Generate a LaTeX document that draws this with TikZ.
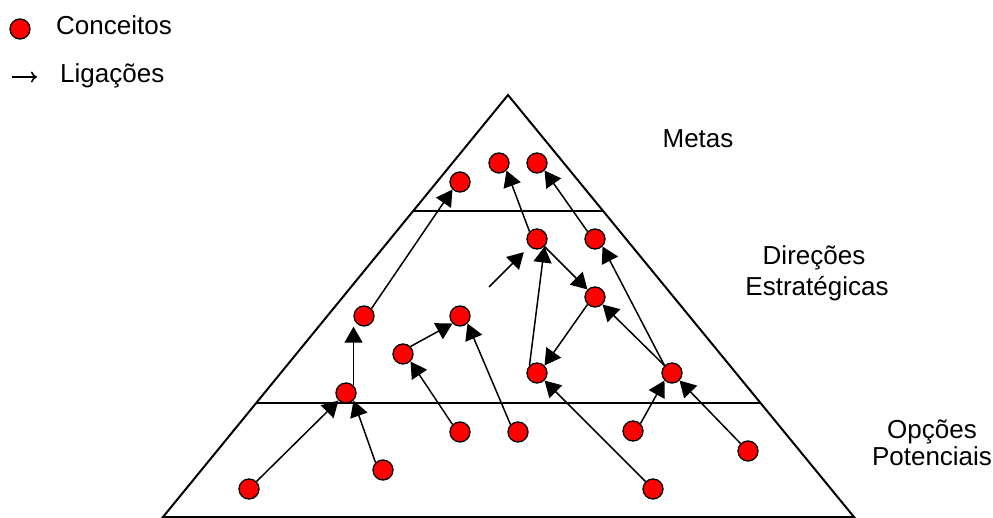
\documentclass[tikz,border=0pt]{standalone}
\usepackage{fontspec}
\setmainfont{Liberation Sans}
\usetikzlibrary{arrows.meta,calc}
\definecolor{conc}{RGB}{255,0,0}
\tikzset{
  conceito/.style={circle,draw=black,fill=conc,line width=1.3pt,minimum size=20pt,inner sep=0pt},
  liga/.style={-{Triangle[length=16pt,width=18pt]},line width=1.5pt},
  aresta/.style={line width=2pt,line join=miter},
  rotulo/.style={font=\fontsize{26}{30}\selectfont,inner sep=0pt},
}

\begin{document}
\begin{tikzpicture}[x=1pt,y=-1pt]
\useasboundingbox (0,0) rectangle (993,518);
% ---- legenda ----
\node[conceito] (legc) at (20,29) {};
\node[rotulo,anchor=base west] (legct) at (56,35) {Conceitos};
\coordinate (lega) at (12,77);
\coordinate (legb) at (37,77);
\draw[-{To[length=6pt,width=11pt]},line width=1.6pt] (lega) -- (legb);
\node[rotulo,anchor=base west] (leglt) at (60,83) {Ligações};

% ---- piramide ----
\coordinate (topo) at (508,95);
\coordinate (esq) at (163,517);
\coordinate (dir) at (854,517);
\draw[aresta] (esq) -- (topo) -- (dir) -- cycle;
\draw[aresta] ($(esq)!0.725!(topo)$) -- ($(dir)!0.725!(topo)$);
\draw[aresta] ($(esq)!0.270!(topo)$) -- ($(dir)!0.270!(topo)$);

\node[rotulo,anchor=base] (metas) at (698,148) {Metas};
\node[rotulo,anchor=base] (dir1) at (814,265) {Direções};
\node[rotulo,anchor=base] (dir2) at (817,296) {Estratégicas};
\node[rotulo,anchor=base] (opc1) at (932,438) {Opções};
\node[rotulo,anchor=base] (opc2) at (932,465) {Potenciais};

% ---- conceitos ----
\foreach \n/\x/\y in {m1/460/182, m2/499/163, m3/537/163,
  d1/537/239, d2/595/239, d3/595/297, d4/364/316, d5/460/316,
  d6/403/354, d7/537/373, d8/672/373, d9/346/393,
  o1/249/489, o2/383/470, o3/460/432, o4/518/432,
  o5/633/431, o6/748/451, o7/653/489}{
  \node[conceito] (\n) at (\x,\y) {};
}

% ---- ligacoes ----
\foreach \a/\b in {d4.45/m1.225, d1.135/m2.-45, d2.135/m3.-45,
  d7.135/d1.-45, d1.-45/d3.135, d3.225/d7.45, d8.135/d3.-45,
  d8.135/d2.-45, o1.45/d9.225, o2.135/d9.-45,
  d6.45/d5.225, o3.135/d6.-45, o4.135/d5.-45, o7.135/d7.-45,
  o5.45/d8.225, o6.135/d8.-45}{
  \draw[liga] (\a) -- (\b);
}
\draw[liga] (d9.45) -- (d9.45 |- d4.south);
\coordinate (solto) at (489,287);
\draw[liga,shorten >=8pt] (solto) -- (d1.225);
\end{tikzpicture}
\end{document}
